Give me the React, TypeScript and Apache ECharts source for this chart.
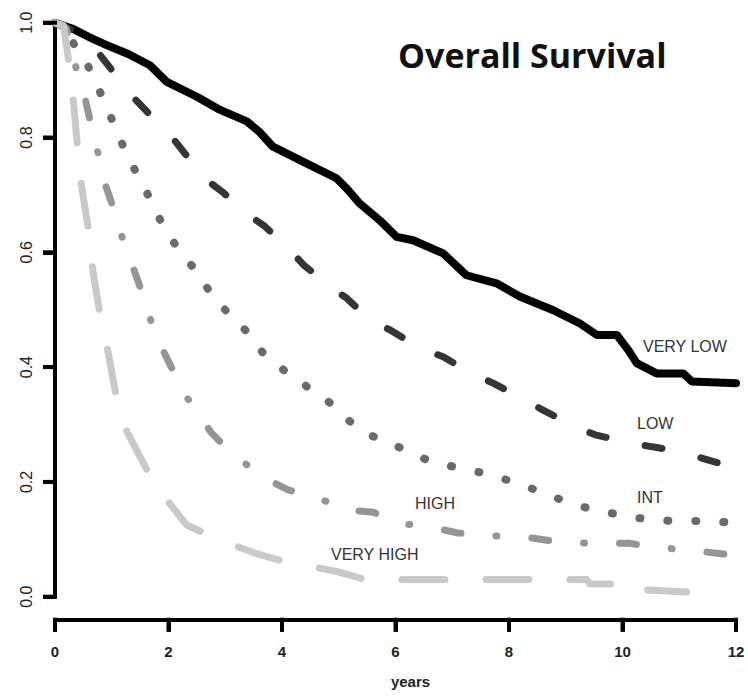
import React, { useEffect, useRef } from "react";
import * as echarts from "echarts";

// Kaplan–Meier style survival estimates: [years, survival]
const veryLow: number[][] = [
  [0, 1.0], [0.3, 0.99], [0.6, 0.975], [0.91, 0.961], [1.3, 0.945], [1.67, 0.926],
  [1.97, 0.897], [2.5, 0.871], [2.91, 0.848], [3.38, 0.828], [3.6, 0.81], [3.84, 0.784],
  [4.43, 0.755], [4.96, 0.729], [5.15, 0.71], [5.37, 0.685], [5.73, 0.655], [6.02, 0.627],
  [6.31, 0.621], [6.84, 0.598], [7.25, 0.56], [7.78, 0.546], [8.19, 0.523], [8.78, 0.499],
  [9.25, 0.476], [9.55, 0.456], [9.9, 0.456], [10.1, 0.43], [10.25, 0.407], [10.6, 0.389],
  [11.07, 0.389], [11.22, 0.375], [12.0, 0.372],
];
const low: number[][] = [
  [0, 1.0], [0.35, 0.985], [0.77, 0.947], [1.02, 0.915], [1.37, 0.871], [1.64, 0.843],
  [2.06, 0.801], [2.29, 0.772], [2.67, 0.726], [2.94, 0.706], [3.41, 0.665], [3.7, 0.645],
  [4.14, 0.604], [4.38, 0.578], [4.85, 0.54], [5.14, 0.52], [5.58, 0.479], [5.9, 0.465],
  [6.43, 0.433], [6.84, 0.418], [7.34, 0.389], [7.72, 0.372], [8.22, 0.346], [8.6, 0.325],
  [9.16, 0.296], [9.52, 0.282], [10.16, 0.267], [10.66, 0.259], [11.31, 0.244], [11.72, 0.232],
];
const intermediate: number[][] = [
  [0, 1.0], [0.2, 0.985], [0.35, 0.96], [0.59, 0.923], [0.79, 0.88], [1.0, 0.832],
  [1.2, 0.785], [1.43, 0.739], [1.66, 0.696], [1.88, 0.651], [2.14, 0.61], [2.45, 0.572],
  [2.73, 0.531], [3.04, 0.495], [3.38, 0.462], [3.67, 0.424], [4.04, 0.394], [4.44, 0.366],
  [4.83, 0.339], [5.19, 0.306], [5.59, 0.28], [6.05, 0.261], [6.54, 0.239], [7.07, 0.225],
  [7.62, 0.214], [8.14, 0.198], [8.63, 0.18], [9.15, 0.16], [9.67, 0.148], [10.26, 0.137],
  [10.87, 0.132], [11.56, 0.132], [11.8, 0.13],
];
const high: number[][] = [
  [0, 1.0], [0.2, 0.99], [0.38, 0.918], [0.53, 0.868], [0.65, 0.816], [0.76, 0.772],
  [0.88, 0.72], [1.06, 0.668], [1.18, 0.627], [1.35, 0.581], [1.53, 0.531], [1.64, 0.494],
  [1.83, 0.444], [2.06, 0.398], [2.2, 0.366], [2.48, 0.324], [2.76, 0.285], [3.0, 0.261],
  [3.39, 0.229], [3.79, 0.202], [4.11, 0.186], [4.66, 0.171], [5.14, 0.151], [5.61, 0.147],
  [6.08, 0.128], [6.68, 0.12], [7.1, 0.111], [7.73, 0.106], [8.36, 0.103], [8.82, 0.096],
  [9.45, 0.093], [10.12, 0.093], [10.59, 0.086], [11.19, 0.081], [11.81, 0.074], [12.0, 0.074],
];
const veryHigh: number[][] = [
  [0, 1.0], [0.15, 0.995], [0.26, 0.92], [0.32, 0.868], [0.41, 0.769], [0.47, 0.714],
  [0.59, 0.639], [0.67, 0.566], [0.82, 0.476], [0.94, 0.424], [1.1, 0.337], [1.27, 0.287],
  [1.62, 0.221], [1.88, 0.18], [2.32, 0.125], [2.76, 0.105], [3.14, 0.09], [3.52, 0.076],
  [4.05, 0.061], [4.49, 0.053], [4.96, 0.044], [5.46, 0.03], [6.47, 0.03], [8.15, 0.03],
  [9.37, 0.03], [9.43, 0.022], [9.83, 0.022], [10.3, 0.022], [10.34, 0.012], [11.13, 0.008],
];

const groupNames = ["VERY LOW", "LOW", "INT", "HIGH", "VERY HIGH"];
const xTicks = [0, 2, 4, 6, 8, 10, 12];
const yTicks = ["0.0", "0.2", "0.4", "0.6", "0.8", "1.0"];
const titleText = "Overall Survival";
const xAxisName = "years";

export default function App() {
  const ref = useRef<HTMLDivElement>(null);

  useEffect(() => {
    if (!ref.current) return;
    const chart = echarts.init(ref.current, undefined, { renderer: "svg" });

    const mk = (
      name: string,
      data: number[][],
      color: string,
      width: number,
      dash: number[] | "solid"
    ) => ({
      name,
      type: "line",
      data,
      showSymbol: false,
      symbol: "none",
      smooth: false,
      clip: true,
      lineStyle: { color, width, type: dash, cap: "round", join: "round" },
      emphasis: { disabled: true },
      silent: true,
    });

    const font = "Liberation Sans, Arial, sans-serif";
    const labelFont = { fontFamily: font, fontSize: 16, fill: "#333" };
    const xOffset = 23;
    const tickLen = 12;
    const tickW = 4;

    const textGraphics: any[] = [
      {
        type: "text",
        left: 398,
        top: 38,
        style: {
          text: titleText,
          fontFamily: "Open Sans, Noto Sans, sans-serif",
          fontSize: 34,
          fontWeight: "bold",
          fill: "#111",
        },
      },
      { type: "text", x: 643, y: 346, style: { ...labelFont, text: groupNames[0], verticalAlign: "middle" } },
      { type: "text", x: 637, y: 423, style: { ...labelFont, text: groupNames[1], verticalAlign: "middle" } },
      { type: "text", x: 637, y: 497, style: { ...labelFont, text: groupNames[2], verticalAlign: "middle" } },
      { type: "text", x: 415, y: 503, style: { ...labelFont, text: groupNames[3], verticalAlign: "middle" } },
      { type: "text", x: 331, y: 554, style: { ...labelFont, text: groupNames[4], verticalAlign: "middle" } },
    ];

    chart.setOption({
      animation: false,
      backgroundColor: "#ffffff",
      grid: { left: 55, right: 12, top: 22.7, bottom: 100.3, containLabel: false, outerBoundsMode: "none" },
      xAxis: {
        type: "value",
        position: "bottom",
        min: xTicks[0],
        max: xTicks[xTicks.length - 1],
        interval: 2,
        offset: xOffset,
        name: xAxisName,
        nameLocation: "middle",
        nameGap: 54,
        nameTextStyle: {
          fontFamily: font,
          fontSize: 15,
          fontWeight: "bold",
          color: "#222",
          padding: [0, 0, 0, 30],
        },
        axisLine: { show: true, onZero: false, lineStyle: { color: "#000", width: 4 } },
        axisTick: { show: true, inside: false, length: tickLen, lineStyle: { color: "#000", width: 4 } },
        axisLabel: {
          show: true,
          margin: 24,
          fontFamily: font,
          fontSize: 15,
          fontWeight: "bold",
          color: "#222",
          formatter: (v: number) => String(xTicks.find((t) => t === v) ?? v),
        },
        splitLine: { show: false },
      },
      yAxis: {
        type: "value",
        position: "left",
        min: 0,
        max: 1,
        interval: 0.2,
        axisLine: { show: true, onZero: false, lineStyle: { color: "#000", width: 4 } },
        axisTick: { show: true, inside: false, length: tickLen, lineStyle: { color: "#000", width: 4 } },
        axisLabel: {
          show: true,
          rotate: 90,
          margin: 21,
          fontFamily: font,
          fontSize: 16,
          color: "#222",
          formatter: (v: number) => yTicks[Math.round(v * 5)] ?? v.toFixed(1),
        },
        splitLine: { show: false },
      },
      graphic: textGraphics,
      series: [
        mk(groupNames[0], veryLow, "#000000", 8, "solid"),
        mk(groupNames[1], low, "#353535", 7, [17, 40]),
        mk(groupNames[2], intermediate, "#6a6a6a", 8, [1, 27]),
        mk(groupNames[3], high, "#959595", 7, [17, 35, 1, 35]),
        mk(groupNames[4], veryHigh, "#c9c9c9", 7, [43, 41]),
      ],
    });

    // Tick marks placed through the axes' own scales (filled rects)
    const axisX = chart.convertToPixel({ xAxisIndex: 0 }, xTicks[0]) as number;
    const axisYBottom = (chart.convertToPixel({ yAxisIndex: 0 }, 0) as number) + xOffset;
    const yTickMarks = yTicks.map((s) => {
      const py = chart.convertToPixel({ yAxisIndex: 0 }, parseFloat(s)) as number;
      return {
        type: "rect",
        z: 100,
        shape: { x: axisX - tickLen, y: py - tickW / 2, width: tickLen + tickW / 2, height: tickW },
        style: { fill: "#000" },
        silent: true,
      };
    });
    const xTickMarks = xTicks.map((t) => {
      const px = chart.convertToPixel({ xAxisIndex: 0 }, t) as number;
      return {
        type: "rect",
        z: 100,
        shape: { x: px - tickW / 2, y: axisYBottom - tickW / 2, width: tickW, height: tickLen + tickW / 2 },
        style: { fill: "#000" },
        silent: true,
      };
    });
    chart.setOption({ graphic: [...textGraphics, ...yTickMarks, ...xTickMarks] });

    return () => chart.dispose();
  }, []);

  return (
    <div
      ref={ref}
      style={{ position: "absolute", left: 0, top: 0, width: 748, height: 697, background: "#fff" }}
    />
  );
}
